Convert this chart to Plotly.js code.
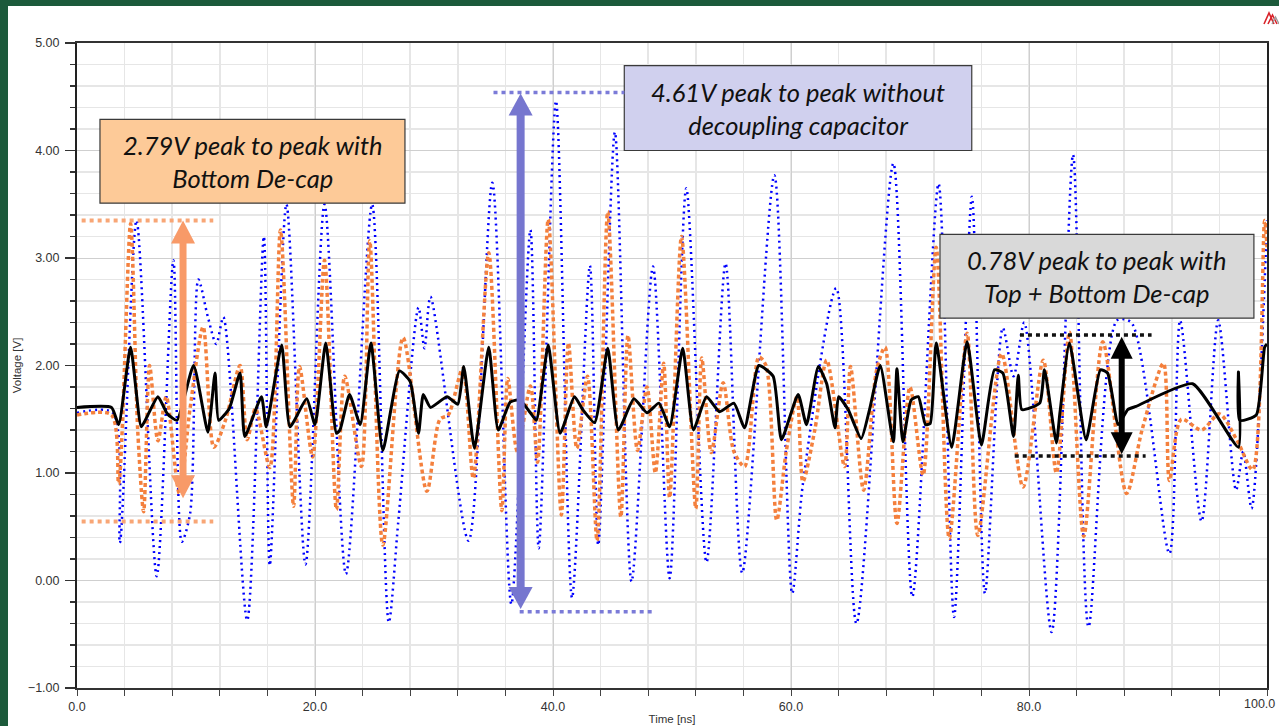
<!DOCTYPE html>
<html><head><meta charset="utf-8">
<script src="https://cdn.plot.ly/plotly-3.0.1.min.js"></script>
<style>
html,body{margin:0;padding:0;background:#1c5a3b;width:1279px;height:726px;overflow:hidden;}
#frame{position:absolute;left:8px;top:6px;width:1271px;height:720px;background:#fff;overflow:hidden;}
#chart{position:absolute;left:0;top:0;width:1271px;height:720px;}
#logo{position:absolute;left:1255px;top:4px;}
</style></head><body>
<div id="frame"><div id="chart"></div>
<svg id="logo" width="18" height="16"><path d="M1 14 L6 3 L11 14" stroke="#d9232a" stroke-width="1.6" fill="none"/><path d="M5 14 L9.5 5 L14 14" stroke="#d9232a" stroke-width="1.6" fill="none"/><path d="M9 14 L12.5 7 L16 14" stroke="#9a9a9a" stroke-width="1.3" fill="none"/></svg>
</div>
<script>
// ---- data (time in ns, voltage in V) ----
const blueT = [0,3.0,3.6,5.0,6.7,8.1,8.8,9.5,10.2,11.0,11.7,12.3,14.3,15.7,16.2,17.6,19.2,20.8,22.6,24.8,26.2,27.0,28.7,29.2,29.7,32.9,34.9,36.5,38.1,38.8,40.25,41.6,43.1,43.8,45.2,46.6,48.4,49.8,51.2,52.9,54.5,55.9,58.6,60.1,61.0,63.8,65.5,68.6,70.2,72.4,73.7,75.2,76.3,77.8,78.7,79.6,81.9,83.7,85.0,87.4,88.6,91.8,92.7,94.5,95.9,97.4,98.0,98.7,100];
const blueV = [1.56,1.56,0.35,3.35,0.04,2.98,0.36,0.62,2.8,2.45,2.2,2.45,-0.37,3.2,0.14,3.5,0.15,3.5,0.06,3.5,-0.39,0.55,2.54,2.16,2.64,0.37,3.7,-0.22,3.26,0.3,4.46,-0.16,2.93,0.33,4.17,-0.01,2.92,0.02,3.65,0.17,2.95,0.07,3.77,-0.12,0.9,2.72,-0.4,3.88,-0.15,3.69,-0.34,3.57,-0.12,2.35,1.9,2.4,-0.48,3.96,-0.43,2.42,2.4,0.25,2.42,0.55,2.42,0.84,1.2,0.67,3.35];

const orangeT = [0,2.9,3.5,4.5,5.1,5.6,6.1,6.8,7.5,8.6,9.5,10.6,11.5,12.5,13.7,14.3,15.0,16.2,17.1,18.2,18.7,19.8,20.8,21.8,22.5,23.9,24.6,25.7,27.4,29.4,30.5,31.2,32.4,33.3,34.6,35.7,36.2,37.0,38.1,38.7,39.6,40.7,41.3,42.0,42.9,43.7,44.6,45.7,46.3,47.1,47.9,48.6,49.3,49.8,50.8,52.0,52.5,53.3,54.3,55.2,56.1,57.3,57.9,58.8,59.6,60.5,61.0,62.0,63.0,64.5,65.0,66.1,67.2,67.9,68.9,70.0,71.1,72.2,73.3,74.8,75.7,77.7,79.5,81.2,82.3,83.4,84.6,86.2,88.2,89.5,91.3,91.8,92.8,94.5,96.0,97.5,98.8,99.8,100];
const orangeV = [1.54,1.54,0.9,3.32,1.4,0.64,2.0,1.3,1.71,0.81,1.6,2.36,1.24,1.5,2.0,1.31,1.6,1.05,3.26,0.69,1.99,1.15,2.98,0.66,1.9,1.06,3.16,0.33,2.26,0.83,1.5,1.54,1.97,0.95,3.05,0.65,1.88,1.2,1.81,1.1,3.36,0.61,2.21,1.23,1.9,0.37,3.43,0.59,2.28,1.21,1.8,1.0,2.02,0.77,3.2,0.67,2.07,1.19,1.84,1.2,1.06,2.08,2.0,0.56,1.2,1.71,0.92,1.4,2.05,1.06,1.99,0.84,1.96,2.17,0.53,1.8,0.98,3.1,0.39,2.3,0.42,2.11,0.87,2.05,1.0,2.31,0.41,2.22,0.81,1.4,2.02,0.93,1.5,1.4,1.55,1.3,1.03,3.35,3.1];

const blackT = [0,2.9,3.5,4.5,5.4,6.0,6.8,7.6,8.4,9.8,11.0,11.6,11.9,12.8,13.7,14.1,15.5,15.9,17.2,17.9,19.3,20.0,20.9,21.8,22.1,22.9,23.8,24.7,25.7,27.1,28.0,28.7,29.1,29.7,31.1,32.0,32.5,33.4,34.6,35.4,36.4,37.2,38.1,38.6,39.6,40.6,41.8,42.5,43.5,44.6,45.5,46.8,47.9,48.9,49.8,50.9,51.8,52.9,54.0,55.2,56.1,57.3,58.5,59.2,60.6,61.3,62.3,63.0,63.7,64.0,64.8,65.9,66.6,67.5,68.6,68.9,69.4,70.1,70.7,71.3,71.7,72.2,73.5,74.8,76.0,77.1,77.8,78.7,79.1,79.4,80.9,81.3,82.3,82.6,83.4,84.8,86.0,86.6,87.5,88.3,89.0,93.75,97.6,97.6,97.7,99.1,99.8,100];
const blackV = [1.61,1.61,1.45,2.17,1.43,1.55,1.71,1.55,1.49,2.0,1.38,1.93,1.49,1.6,1.93,1.34,1.71,1.43,2.19,1.43,1.69,1.45,2.21,1.37,1.4,1.73,1.45,2.21,1.21,1.95,1.85,1.37,1.73,1.61,1.71,1.64,1.99,1.23,2.17,1.4,1.66,1.68,1.56,1.49,2.19,1.37,1.71,1.59,1.47,2.16,1.4,1.69,1.56,1.65,1.43,2.16,1.4,1.71,1.57,1.65,1.42,2.0,1.9,1.31,1.73,1.45,1.99,1.83,1.42,1.71,1.59,1.32,1.59,2.0,1.29,1.97,1.29,1.68,1.71,1.45,1.46,2.21,1.24,2.22,1.26,1.96,1.93,1.34,1.91,1.59,1.65,1.96,1.28,1.56,2.21,1.31,1.96,1.93,1.45,1.59,1.62,1.83,1.24,1.94,1.49,1.54,2.17,2.2];

// ---- tick labels ----
const xTickVals = [0,20,40,60,80,100];
const xTickText = ['0.0','20.0','40.0','60.0','80.0',''];
const xLastLabel = '100.0';

// ---- annotation config ----
const boxes = [
  {x0:1.93, x1:27.56, y0:3.51, y1:4.29, fill:'#fdca98', text:'2.79V peak to peak with<br>Bottom De-cap'},
  {x0:45.99, x1:75.19, y0:4.0, y1:4.79, fill:'#d0d0ee', text:'4.61V peak to peak without<br>decoupling capacitor'},
  {x0:72.52, x1:98.9, y0:2.44, y1:3.22, fill:'#d9d9d9', text:'0.78V peak to peak with<br>Top + Bottom De-cap'}
];
const refLines = [
  {x0:0.39, x1:11.45, y:3.35, color:'#f8a676', w:4, dash:'4px,4px'},
  {x0:0.39, x1:11.45, y:0.55, color:'#f8a676', w:4, dash:'4px,4px'},
  {x0:35.0, x1:46.0, y:4.54, color:'#7b7bd8', w:3.5, dash:'4px,4px'},
  {x0:37.2, x1:48.3, y:-0.29, color:'#7b7bd8', w:3.5, dash:'4px,4px'},
  {x0:79.24, x1:90.3, y:2.284, color:'#111', w:3.5, dash:'4px,4px'},
  {x0:78.8, x1:89.8, y:1.158, color:'#111', w:3.5, dash:'4px,4px'}
];
const arrows = [
  {t:8.91, top:3.35, bot:0.765, color:'#f89a68', shaft:7, hw:12, hh:23},
  {t:37.28, top:4.53, bot:-0.265, color:'#7676cf', shaft:8, hw:12, hh:22},
  {t:87.79, top:2.268, bot:1.174, color:'#000000', shaft:6, hw:11, hh:22}
];

const W=1271, H=720, M={l:69,r:12,t:37,b:38};
const plotW=W-M.l-M.r, plotH=H-M.t-M.b;
const nsPx=100/plotW, vPx=6/plotH;

const shapes=[];
boxes.forEach(b=>shapes.push({type:'rect',xref:'x',yref:'y',x0:b.x0,x1:b.x1,y0:b.y0,y1:b.y1,fillcolor:b.fill,line:{color:'#3a3a3a',width:1.2},layer:'above'}));
refLines.forEach(r=>shapes.push({type:'line',xref:'x',yref:'y',x0:r.x0,x1:r.x1,y0:r.y,y1:r.y,line:{color:r.color,width:r.w,dash:r.dash},layer:'above'}));
arrows.forEach(a=>{
  const hh=a.hh*vPx, hw=a.hw*nsPx;
  shapes.push({type:'line',xref:'x',yref:'y',x0:a.t,x1:a.t,y0:a.top-hh*0.9,y1:a.bot+hh*0.9,line:{color:a.color,width:a.shaft},layer:'above'});
  shapes.push({type:'path',xref:'x',yref:'y',path:`M ${a.t},${a.top} L ${a.t-hw},${a.top-hh} L ${a.t+hw},${a.top-hh} Z`,fillcolor:a.color,line:{color:a.color,width:0},layer:'above'});
  shapes.push({type:'path',xref:'x',yref:'y',path:`M ${a.t},${a.bot} L ${a.t-hw},${a.bot+hh} L ${a.t+hw},${a.bot+hh} Z`,fillcolor:a.color,line:{color:a.color,width:0},layer:'above'});
});
const tickFont={family:'"Liberation Sans", Arial, sans-serif',size:12.5,color:'#333'};
const annotations = boxes.map(b=>({xref:'x',yref:'y',x:(b.x0+b.x1)/2,y:(b.y0+b.y1)/2,text:b.text,showarrow:false,align:'center',
  font:{family:'Lato, "Liberation Sans", sans-serif',size:25.5,style:'italic',color:'#111'}}));
annotations.push({xref:'x',yref:'paper',x:xTickVals[xTickVals.length-1],y:0,xanchor:'right',yanchor:'top',xshift:10,yshift:-7,
  text:xLastLabel,showarrow:false,font:tickFont});

const traces=[
  {x:blueT,y:blueV,mode:'lines',line:{color:'#0000ff',width:2.5,dash:'2px,4px',shape:'spline',smoothing:0.8},hoverinfo:'skip',showlegend:false},
  {x:orangeT,y:orangeV,mode:'lines',line:{color:'#f4803d',width:3.5,dash:'4px,3px',shape:'spline',smoothing:0.8},hoverinfo:'skip',showlegend:false},
  {x:blackT,y:blackV,mode:'lines',line:{color:'#000000',width:3,shape:'spline',smoothing:0.5},hoverinfo:'skip',showlegend:false}
];
const layout={
  width:W,height:H,margin:M,paper_bgcolor:'rgba(0,0,0,0)',plot_bgcolor:'#ffffff',showlegend:false,
  xaxis:{range:[0,100],tickmode:'array',tickvals:xTickVals,ticktext:xTickText,ticks:'outside',ticklen:6,tickcolor:'#444',tickwidth:1,
    showline:true,linecolor:'#333',linewidth:2,mirror:true,showgrid:true,gridcolor:'#cfcfcf',gridwidth:1,zeroline:false,
    minor:{tick0:0,dtick:4,ticks:'outside',ticklen:6,tickcolor:'#444',showgrid:true,gridcolor:'#e6e6e6',gridwidth:1.5},
    tickfont:tickFont,automargin:false,
    title:{text:'Time [ns]',font:{family:'"Liberation Sans", Arial, sans-serif',size:11.5,color:'#333'},standoff:2}},
  yaxis:{range:[-1,5],tick0:0,dtick:1,tickformat:'.2f',ticks:'outside',ticklen:10,tickcolor:'#333',tickwidth:1.2,
    showline:true,linecolor:'#222',linewidth:2,mirror:true,showgrid:true,gridcolor:'#cfcfcf',gridwidth:1,zeroline:false,
    minor:{dtick:0.2,ticks:'outside',ticklen:5,tickcolor:'#333',showgrid:true,gridcolor:'#e6e6e6',gridwidth:1.5},
    tickfont:tickFont,automargin:false,ticklabelstandoff:3,ticklabeloverflow:'allow',
    title:{text:'Voltage [V]',font:{family:'"Liberation Sans", Arial, sans-serif',size:11.5,color:'#333'},standoff:4}},
  shapes:shapes,annotations:annotations
};
Plotly.newPlot('chart',traces,layout,{staticPlot:true,displayModeBar:false});
</script></body></html>
